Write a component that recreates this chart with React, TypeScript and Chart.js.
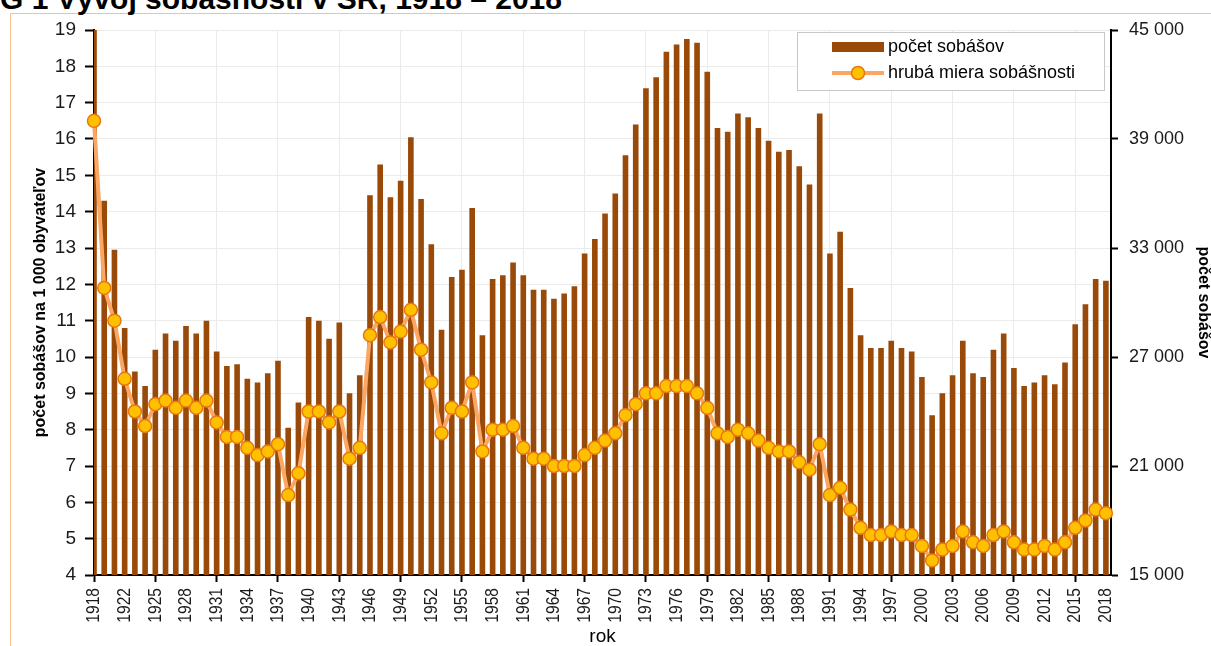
import React, { useEffect, useRef } from 'react';
import { Chart, registerables } from 'chart.js';

Chart.register(...registerables);

// Categories (one year missing between 1918 and 1922 in the source series)
const years = [
  1918, 1920, 1921, 1922, 1923, 1924, 1925, 1926, 1927, 1928,
  1929, 1930, 1931, 1932, 1933, 1934, 1935, 1936, 1937, 1938,
  1939, 1940, 1941, 1942, 1943, 1944, 1945, 1946, 1947, 1948,
  1949, 1950, 1951, 1952, 1953, 1954, 1955, 1956, 1957, 1958,
  1959, 1960, 1961, 1962, 1963, 1964, 1965, 1966, 1967, 1968,
  1969, 1970, 1971, 1972, 1973, 1974, 1975, 1976, 1977, 1978,
  1979, 1980, 1981, 1982, 1983, 1984, 1985, 1986, 1987, 1988,
  1989, 1990, 1991, 1992, 1993, 1994, 1995, 1996, 1997, 1998,
  1999, 2000, 2001, 2002, 2003, 2004, 2005, 2006, 2007, 2008,
  2009, 2010, 2011, 2012, 2013, 2014, 2015, 2016, 2017, 2018,
];

// počet sobášov (right axis)
const marriages = [
  47000, 35600, 32900, 28600, 26200, 25400, 27400, 28300, 27900, 28700,
  28300, 29000, 27300, 26500, 26600, 25800, 25600, 26100, 26800, 23100,
  24500, 29200, 29000, 28000, 28900, 25000, 26000, 35900, 37600, 35800,
  36700, 39100, 35700, 33200, 28500, 31400, 31800, 35200, 28200, 31300,
  31500, 32200, 31500, 30700, 30700, 30200, 30500, 30900, 32700, 33500,
  34900, 36000, 38100, 39800, 41800, 42400, 43800, 44200, 44500, 44300,
  42700, 39600, 39400, 40400, 40200, 39600, 38900, 38300, 38400, 37500,
  36500, 40400, 32700, 33900, 30800, 28200, 27500, 27500, 27900, 27500,
  27300, 25900, 23800, 25000, 26000, 27900, 26100, 25900, 27400, 28300,
  26400, 25400, 25600, 26000, 25500, 26700, 28800, 29900, 31300, 31200,
];

// hrubá miera sobášnosti (left axis)
const rate = [
  16.5, 11.9, 11.0, 9.4, 8.5, 8.1, 8.7, 8.8, 8.6, 8.8,
  8.6, 8.8, 8.2, 7.8, 7.8, 7.5, 7.3, 7.4, 7.6, 6.2,
  6.8, 8.5, 8.5, 8.2, 8.5, 7.2, 7.5, 10.6, 11.1, 10.4,
  10.7, 11.3, 10.2, 9.3, 7.9, 8.6, 8.5, 9.3, 7.4, 8.0,
  8.0, 8.1, 7.5, 7.2, 7.2, 7.0, 7.0, 7.0, 7.3, 7.5,
  7.7, 7.9, 8.4, 8.7, 9.0, 9.0, 9.2, 9.2, 9.2, 9.0,
  8.6, 7.9, 7.8, 8.0, 7.9, 7.7, 7.5, 7.4, 7.4, 7.1,
  6.9, 7.6, 6.2, 6.4, 5.8, 5.3, 5.1, 5.1, 5.2, 5.1,
  5.1, 4.8, 4.4, 4.7, 4.8, 5.2, 4.9, 4.8, 5.1, 5.2,
  4.9, 4.7, 4.7, 4.8, 4.7, 4.9, 5.3, 5.5, 5.8, 5.7,
];

// label every 3rd category, gridline / tick mark every 6th
const xTickIndices = [
  0, 3, 6, 9, 12, 15, 18, 21, 24, 27, 30, 33, 36, 39, 42, 45, 48,
  51, 54, 57, 60, 63, 66, 69, 72, 75, 78, 81, 84, 87, 90, 93, 96, 99,
];

const TITLE = 'G 1 Vývoj sobášnosti v SR, 1918 – 2018';
const BAR_LABEL = 'počet sobášov';
const LINE_LABEL = 'hrubá miera sobášnosti';
const LEFT_TITLE = 'počet sobášov na 1 000 obyvateľov';
const RIGHT_TITLE = 'počet sobášov';
const X_TITLE = 'rok';

const SANS = "'Liberation Sans', Arial, sans-serif";
const BAR_COLOR = '#994A08';
const LINE_COLOR = '#FBA662';
const POINT_FILL = '#FFC000';
const POINT_BORDER = '#E8770E';
const GRID = '#EBEBEB';
const CONDENSE = 0.82;

const fmtThousands = (v: number) => String(v).replace(/\B(?=(\d{3})+(?!\d))/g, ' ');

// Draws rotated, non-bold text (the year labels) horizontally condensed, like a narrow font.
const condensePlugin = {
  id: 'condenseRotated',
  beforeDraw(chart: any) {
    const ctx: any = chart.ctx;
    if (ctx.__origFillText) return;
    const orig = ctx.fillText;
    ctx.__origFillText = orig;
    ctx.fillText = function (text: string, x: number, y: number, maxWidth?: number) {
      const m = this.getTransform();
      if (Math.abs(m.b) > 0.5 && !/bold/.test(this.font)) {
        this.save();
        this.translate(x, y);
        this.scale(CONDENSE, 1);
        orig.call(this, text, 0, 0);
        this.restore();
        return;
      }
      if (maxWidth === undefined) return orig.call(this, text, x, y);
      return orig.call(this, text, x, y, maxWidth);
    };
  },
  afterDraw(chart: any) {
    const ctx: any = chart.ctx;
    if (ctx.__origFillText) {
      ctx.fillText = ctx.__origFillText;
      delete ctx.__origFillText;
    }
  },
};

const legendPlugin = {
  id: 'boxLegend',
  afterDraw(chart: any) {
    const ctx = chart.ctx;
    const ca = chart.chartArea;
    const left = ca.right - 314;
    const top = ca.top + 2;
    ctx.save();
    ctx.fillStyle = '#fff';
    ctx.fillRect(left, top, 307, 58);
    ctx.strokeStyle = '#C8C8C8';
    ctx.lineWidth = 1;
    ctx.strokeRect(left + 0.5, top + 0.5, 307, 58);
    ctx.fillStyle = BAR_COLOR;
    ctx.fillRect(left + 35, top + 10, 52, 10);
    ctx.strokeStyle = LINE_COLOR;
    ctx.lineWidth = 4;
    ctx.beginPath();
    ctx.moveTo(left + 35, top + 41);
    ctx.lineTo(left + 87, top + 41);
    ctx.stroke();
    ctx.beginPath();
    ctx.arc(left + 61, top + 41, 6.5, 0, Math.PI * 2);
    ctx.fillStyle = POINT_FILL;
    ctx.fill();
    ctx.lineWidth = 1.5;
    ctx.strokeStyle = POINT_BORDER;
    ctx.stroke();
    ctx.fillStyle = '#000';
    ctx.font = `18px ${SANS}`;
    ctx.textBaseline = 'middle';
    ctx.textAlign = 'left';
    ctx.fillText(BAR_LABEL, left + 91, top + 15);
    ctx.fillText(LINE_LABEL, left + 91, top + 41);
    ctx.restore();
  },
};

export default function App() {
  const canvasRef = useRef<HTMLCanvasElement | null>(null);

  useEffect(() => {
    const canvas = canvasRef.current;
    if (!canvas) return;
    Chart.defaults.font.family = SANS;
    const chart = new Chart(canvas, {
      type: 'bar',
      data: {
        datasets: [
          {
            type: 'line',
            label: LINE_LABEL,
            data: rate.map((v, i) => ({ x: i, y: v })),
            xAxisID: 'x',
            yAxisID: 'y',
            borderColor: LINE_COLOR,
            borderWidth: 4,
            pointRadius: 6.5,
            pointBackgroundColor: POINT_FILL,
            pointBorderColor: POINT_BORDER,
            pointBorderWidth: 1.5,
            tension: 0,
            clip: false,
            order: 1,
          } as any,
          {
            type: 'bar',
            label: BAR_LABEL,
            data: marriages.map((v, i) => ({ x: i, y: v })),
            xAxisID: 'x',
            yAxisID: 'y1',
            backgroundColor: BAR_COLOR,
            borderWidth: 0,
            barPercentage: 0.55,
            categoryPercentage: 1,
            order: 2,
          } as any,
        ],
      },
      options: {
        animation: false,
        responsive: false,
        layout: { padding: { top: 30, left: 0, right: 0, bottom: 0 } },
        plugins: {
          legend: { display: false },
          tooltip: { enabled: false },
        },
        scales: {
          x: {
            type: 'linear',
            min: 0,
            max: 99.5,
            offset: false,
            afterBuildTicks: (s: any) => {
              s.ticks = xTickIndices.map((v) => ({ value: v }));
            },
            afterFit: (s: any) => {
              s.height = 71;
            },
            ticks: {
              autoSkip: false,
              maxRotation: 90,
              minRotation: 90,
              padding: 6,
              color: '#1a1a1a',
              font: { family: SANS, size: 19 },
              callback: (v: any) => String(years[v]),
            },
            grid: {
              offset: false,
              color: (c: any) => (c.tick && c.tick.value % 6 === 0 ? GRID : 'rgba(0,0,0,0)'),
              tickColor: (c: any) => (c.tick && c.tick.value % 6 === 0 ? '#000' : 'rgba(0,0,0,0)'),
              tickLength: 7,
              tickWidth: 2,
              lineWidth: 1,
            },
            border: { color: '#000', width: 2 },
            title: {
              display: true,
              text: X_TITLE,
              color: '#000',
              font: { family: SANS, size: 19, lineHeight: 1 },
              padding: 0,
            },
          } as any,
          y: {
            position: 'left',
            min: 4,
            max: 19,
            afterFit: (s: any) => {
              s.width = 94;
            },
            ticks: {
              stepSize: 1,
              padding: 9,
              color: '#1a1a1a',
              font: { family: SANS, size: 19 },
            },
            grid: {
              color: GRID,
              tickColor: '#000',
              tickLength: 9,
              tickWidth: 2,
              lineWidth: 1,
            },
            border: { color: '#000', width: 2 },
            title: {
              display: true,
              text: LEFT_TITLE,
              color: '#000',
              font: { family: SANS, size: 16, weight: 'bold' },
              padding: { top: 31, bottom: 0 },
            },
          } as any,
          y1: {
            position: 'right',
            min: 15000,
            max: 45000,
            afterFit: (s: any) => {
              s.width = 100;
            },
            ticks: {
              stepSize: 6000,
              padding: 11,
              color: '#1a1a1a',
              font: { family: SANS, size: 18 },
              callback: (v: any) => fmtThousands(v),
            },
            grid: {
              drawOnChartArea: false,
              tickColor: '#000',
              tickLength: 7,
              tickWidth: 2,
            },
            border: { color: '#000', width: 2 },
            title: {
              display: true,
              text: RIGHT_TITLE,
              color: '#000',
              font: { family: SANS, size: 16, weight: 'bold', lineHeight: 1 },
              padding: { top: 0, bottom: 0 },
            },
          } as any,
        },
      },
      plugins: [condensePlugin, legendPlugin],
    });
    return () => chart.destroy();
  }, []);

  return (
    <div style={{ position: 'absolute', left: 0, top: 0, width: 1211, height: 646, overflow: 'hidden', background: '#fff' }}>
      <div
        style={{
          position: 'absolute',
          left: 10,
          top: 13,
          width: 1201,
          height: 633,
          borderTop: '1px solid #F9C08E',
          borderLeft: '1px solid #F9C08E',
          boxSizing: 'border-box',
        }}
      />
      <div
        style={{
          position: 'absolute',
          left: 0,
          top: -16,
          font: `bold 30px ${SANS}`,
          lineHeight: '30px',
          whiteSpace: 'nowrap',
          color: '#000',
        }}
      >
        {TITLE}
      </div>
      <canvas ref={canvasRef} width={1211} height={646} style={{ position: 'absolute', left: 0, top: 0, display: 'block' }} />
    </div>
  );
}
